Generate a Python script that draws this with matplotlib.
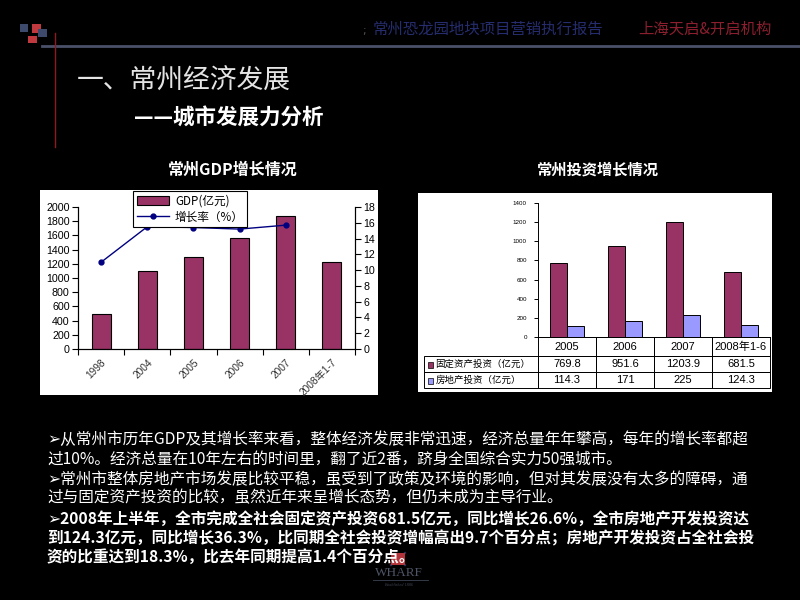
import matplotlib
matplotlib.use('Agg')
import matplotlib.pyplot as plt
from matplotlib.patches import Rectangle
from matplotlib.lines import Line2D
from matplotlib.table import Table

CJK = ['Noto Sans CJK SC', 'DejaVu Sans']
LAT = ['Liberation Sans', 'Noto Sans CJK SC', 'DejaVu Sans']

# ---------------- data ----------------
gdp_years = ['1998', '2004', '2005', '2006', '2007', '2008年1-7']
gdp_values = [500, 1100, 1300, 1570, 1880, 1230]
growth_rate = [11.0, 15.5, 15.4, 15.2, 15.7]          # first five categories

inv_years = ['2005', '2006', '2007', '2008年1-6']
fixed_inv = [769.8, 951.6, 1203.9, 681.5]
estate_inv = [114.3, 171, 225, 124.3]
inv_labels = ['固定资产投资（亿元）', '房地产投资（亿元）']

header_left = '常州恐龙园地块项目营销执行报告'
header_right = '上海天启&开启机构'
title = '一、常州经济发展'
subtitle = '——城市发展力分析'
chart1_title = '常州GDP增长情况'
chart2_title = '常州投资增长情况'

paragraphs = [
    ['➢从常州市历年GDP及其增长率来看，整体经济发展非常迅速，经济总量年年攀高，每年的增长率都超',
     '过10%。经济总量在10年左右的时间里，翻了近2番，跻身全国综合实力50强城市。'],
    ['➢常州市整体房地产市场发展比较平稳，虽受到了政策及环境的影响，但对其发展没有太多的障碍，通',
     '过与固定资产投资的比较，虽然近年来呈增长态势，但仍未成为主导行业。'],
    ['➢2008年上半年，全市完成全社会固定资产投资681.5亿元，同比增长26.6%，全市房地产开发投资达',
     '到124.3亿元，同比增长36.3%，比同期全社会投资增幅高出9.7个百分点；房地产开发投资占全社会投',
     '资的比重达到18.3%，比去年同期提高1.4个百分点。'],
]

MAROON = '#993366'
LAVENDER = '#9999FF'
NAVY = '#000080'

W, H = 800, 600
fig = plt.figure(figsize=(8, 6), dpi=100, facecolor='black')


def fx(x):
    return x / W


def fy(y):
    return 1 - y / H


def add_ax(x0, y0, x1, y1, **kw):
    return fig.add_axes([fx(x0), fy(y1), (x1 - x0) / W, (y1 - y0) / H], **kw)


def rect(x0, y0, x1, y1, color, z=0):
    fig.patches.append(Rectangle((fx(x0), fy(y1)), (x1 - x0) / W, (y1 - y0) / H,
                                 transform=fig.transFigure, facecolor=color,
                                 edgecolor='none', zorder=z))


# ---------------- decorations ----------------
rect(20, 24, 28, 32, '#3d4a6b', 2)
rect(32, 24, 41, 33, '#c0393f', 2)
rect(38, 29, 47, 37, '#3d4a6b', 3)
rect(28, 36, 37, 43, '#c0393f', 2)
fig.add_artist(Line2D([fx(42), fx(800)], [fy(46), fy(46)], color='#4a5068', lw=2))
fig.add_artist(Line2D([fx(55), fx(55)], [fy(33), fy(147)], color='#8b1a22', lw=1))

fig.text(fx(362), fy(31), ';', color='#555555', fontsize=8, va='center', ha='left')
fig.text(fx(373), fy(29), header_left, color='#262d6e', fontsize=11.1,
         family=CJK, va='center', ha='left')
fig.text(fx(638), fy(29), header_right, color='#8b1f2f', fontsize=11.1,
         family=CJK, va='center', ha='left')
fig.text(fx(77), fy(80), title, color='#e4e4e4', fontsize=19.3,
         family=CJK, va='center', ha='left')
fig.text(fx(134), fy(118), subtitle, color='white', fontsize=15.5, fontweight='bold',
         family=CJK, va='center', ha='left')

fig.text(fx(233), fy(170), chart1_title, color='white', fontsize=11.5, fontweight='bold',
         family=CJK, va='center', ha='center')
fig.text(fx(598), fy(170), chart2_title, color='white', fontsize=11, fontweight='bold',
         family=CJK, va='center', ha='center')

# ---------------- chart 1 ----------------
rect(40, 190, 378, 395, 'white', 1)
ax1 = add_ax(78, 207, 355, 349, zorder=3)
ax1.set_facecolor('none')
x1 = list(range(len(gdp_years)))
ax1.bar(x1, gdp_values, width=0.41, color=MAROON, edgecolor='black', linewidth=0.8, zorder=2)
ax1.set_xlim(-0.5, len(gdp_years) - 0.5)
ax1.set_ylim(0, 2000)
ax1.set_yticks(range(0, 2001, 200))
ax1.set_xticks([i - 0.5 for i in range(len(gdp_years) + 1)])
ax1.set_xticklabels([])
ax1.set_xticks(x1, minor=True)
ax1.set_xticklabels(gdp_years, minor=True, rotation=45, ha='right', va='top',
                    rotation_mode='anchor', fontsize=7.3, color='#333333', family=LAT)
ax1.tick_params(axis='x', which='minor', length=0, pad=6)
ax1.tick_params(axis='x', which='major', length=4, width=0.8, direction='out')
ax1.tick_params(axis='y', length=4, width=0.8, direction='out', labelsize=7.7, pad=2)
for lab in ax1.get_yticklabels():
    lab.set_family(LAT)
ax1.spines['top'].set_visible(False)
for s in ['left', 'bottom', 'right']:
    ax1.spines[s].set_linewidth(0.8)

ax2 = ax1.twinx()
ax2.set_ylim(0, 18)
ax2.set_yticks(range(0, 19, 2))
ax2.plot(x1[:len(growth_rate)], growth_rate, color=NAVY, lw=1, marker='o', markersize=3.5, zorder=3)
ax2.tick_params(axis='y', length=4, width=0.8, direction='out', labelsize=7.7, pad=2)
for lab in ax2.get_yticklabels():
    lab.set_family(LAT)
ax2.spines['top'].set_visible(False)
ax2.spines['right'].set_linewidth(0.8)

handles = [Rectangle((0, 0), 1, 1, facecolor=MAROON, edgecolor='black', linewidth=0.8),
           Line2D([], [], color=NAVY, lw=1, marker='o', markersize=3.5)]
leg = ax2.legend(handles, ['GDP(亿元)', '增长率（%）'], loc='upper left',
                 bbox_to_anchor=(fx(133), fy(191)), bbox_transform=fig.transFigure,
                 prop={'family': CJK, 'size': 8.4}, frameon=True, fancybox=False,
                 edgecolor='black', borderpad=0.3, handlelength=2.8, labelspacing=0.25,
                 handletextpad=0.5, borderaxespad=0)
leg.get_frame().set_linewidth(0.8)
leg.get_frame().set_alpha(1)
leg.set_zorder(10)

# ---------------- chart 2 ----------------
rect(418, 193, 772, 392, 'white', 1)
ax3 = add_ax(538, 203, 770, 337, zorder=3)
ax3.set_facecolor('none')
x3 = list(range(len(inv_years)))
bw = 0.286
ax3.bar([i - bw / 2 for i in x3], fixed_inv, width=bw, color=MAROON, edgecolor='black', linewidth=0.7)
ax3.bar([i + bw / 2 for i in x3], estate_inv, width=bw, color=LAVENDER, edgecolor='black', linewidth=0.7)
ax3.set_xlim(-0.5, len(inv_years) - 0.5)
ax3.set_ylim(0, 1400)
ax3.set_yticks(range(0, 1401, 200))
ax3.set_xticks([])
ax3.tick_params(axis='y', length=3, width=0.7, direction='out', labelsize=4.5, pad=5)
for lab in ax3.get_yticklabels():
    lab.set_family(LAT)
for s in ['top', 'right']:
    ax3.spines[s].set_visible(False)
ax3.spines['left'].set_linewidth(0.7)
ax3.spines['bottom'].set_linewidth(0.7)

# data table under chart 2
ax_w = 770 - 538
ax_h = 337 - 203
tbl = Table(ax3, bbox=[(424 - 538) / ax_w, -(388 - 337) / ax_h, (770 - 424) / ax_w, (388 - 337) / ax_h])
lab_w, col_w = 114, 58
head_h, row_h = 19, 16
for j, lab in enumerate(inv_years):
    c = tbl.add_cell(0, j + 1, width=col_w, height=head_h, text=lab, loc='center')
for i, (lab, vals) in enumerate(zip(inv_labels, [fixed_inv, estate_inv])):
    c = tbl.add_cell(i + 1, 0, width=lab_w, height=row_h, text=lab, loc='left')
    c.PAD = 0.1
    for j, v in enumerate(vals):
        tbl.add_cell(i + 1, j + 1, width=col_w, height=row_h, text=f'{v:g}', loc='center')
tbl.auto_set_font_size(False)
for (r, cidx), cell in tbl.get_celld().items():
    cell.set_edgecolor('black')
    cell.set_linewidth(0.7)
    cell.set_facecolor('none')
    t = cell.get_text()
    if cidx == 0:
        t.set_fontsize(6.8)
        t.set_family(CJK)
    else:
        t.set_fontsize(8)
        t.set_family(LAT)
ax3.add_table(tbl)

# legend keys in the row labels
for i, col in enumerate([MAROON, LAVENDER]):
    yc = [365, 381][i]
    ax3.add_patch(Rectangle(((428 - 538) / ax_w, -(yc + 3 - 337) / ax_h), 5 / ax_w, 6 / ax_h,
                            transform=ax3.transAxes, facecolor=col, edgecolor='black',
                            linewidth=0.5, clip_on=False))

# ---------------- text block ----------------
line_y = [440, 459, 480, 498, 519, 538, 557]
renderer = fig.canvas.get_renderer()
k = 0
for p_i, para in enumerate(paragraphs):
    weight = 'bold' if p_i == 2 else 'normal'
    texts = []
    for line in para:
        t = fig.text(fx(47), fy(line_y[k]), line, color='white', fontsize=11.3,
                     fontweight=weight, family=CJK, va='center', ha='left')
        texts.append(t)
        k += 1
    # fit first (full) line of paragraph to the text column width
    bb = texts[0].get_window_extent(renderer)
    scale = (752 - 47) / bb.width
    for t in texts:
        t.set_fontsize(11.3 * scale)

# ---------------- WHARF logo ----------------
rect(391, 553, 405, 565, '#b3343a', 2)
fig.add_artist(Line2D([fx(391), fx(405)], [fy(553), fy(565)], color='#2a3560', lw=1.5))
fig.add_artist(Line2D([fx(391), fx(405)], [fy(565), fy(553)], color='#2a3560', lw=1.5))
fig.text(fx(399), fy(573), 'WHARF', color='#4e5566', fontsize=9.5, family=['Liberation Serif'],
         va='center', ha='center')
fig.add_artist(Line2D([fx(373), fx(428)], [fy(580), fy(580)], color='#3e4455', lw=0.6))
fig.text(fx(399), fy(585), 'Established 1886', color='#3e4455', fontsize=3, family=['Liberation Serif'],
         va='center', ha='center', style='italic')

fig.savefig('out.png', dpi=100, facecolor='black')
